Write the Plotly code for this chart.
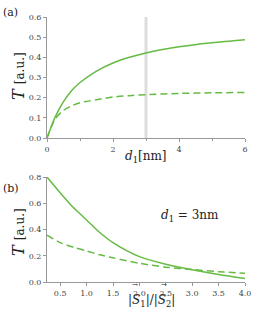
import plotly.graph_objects as go

# Panel (a)
d1 = [0, 0.25, 0.5, 0.75, 1, 1.5, 2, 2.5, 3, 4, 5, 6]
T_a_solid = [0, 0.105, 0.18, 0.235, 0.275, 0.332, 0.372, 0.40, 0.422, 0.452, 0.472, 0.487]
T_a_dash = [0, 0.095, 0.137, 0.16, 0.175, 0.19, 0.203, 0.21, 0.215, 0.221, 0.224, 0.226]
d_marker = 3

# Panel (b)
ratio = [0.25, 0.5, 0.75, 1, 1.25, 1.5, 2, 2.5, 3, 3.5, 4]
T_b_solid = [0.8, 0.68, 0.567, 0.473, 0.377, 0.30, 0.193, 0.135, 0.093, 0.057, 0.027]
T_b_dash = [0.357, 0.30, 0.265, 0.237, 0.207, 0.184, 0.143, 0.113, 0.095, 0.079, 0.067]

GREEN = "#66bb44"
FONT = "DejaVu Serif"

fig = go.Figure()
fig.add_trace(go.Scatter(x=[d_marker, d_marker], y=[0, 0.6], mode="lines",
                         line=dict(color="#dcdcdc", width=3), xaxis="x", yaxis="y", hoverinfo="skip"))
fig.add_trace(go.Scatter(x=d1, y=T_a_solid, mode="lines", line=dict(color=GREEN, width=1.5, shape="spline", smoothing=0.8),
                         xaxis="x", yaxis="y"))
fig.add_trace(go.Scatter(x=d1, y=T_a_dash, mode="lines",
                         line=dict(color=GREEN, width=1.5, shape="spline", smoothing=0.8, dash="7px,4px"),
                         xaxis="x", yaxis="y"))
fig.add_trace(go.Scatter(x=ratio, y=T_b_solid, mode="lines", line=dict(color=GREEN, width=1.5, shape="spline", smoothing=0.8),
                         xaxis="x2", yaxis="y2"))
fig.add_trace(go.Scatter(x=ratio, y=T_b_dash, mode="lines",
                         line=dict(color=GREEN, width=1.5, shape="spline", smoothing=0.8, dash="7px,4px"),
                         xaxis="x2", yaxis="y2"))

W, H = 257, 315
xd = [47 / W, 245 / W]
axcommon = dict(showgrid=False, zeroline=False, showline=True, linecolor="#999999", linewidth=1,
                ticks="outside", ticklen=3, tickcolor="#999999", automargin=False,
                tickfont=dict(family=FONT, size=8, color="#444444"))

fig.update_layout(
    width=W, height=H, margin=dict(l=0, r=0, t=0, b=0, pad=0, autoexpand=False),
    paper_bgcolor="white", plot_bgcolor="white", showlegend=False,
    xaxis=dict(domain=xd, range=[0, 6], tickvals=[0, 2, 4, 6], anchor="y",
               minor=dict(tickvals=[1, 3, 5], ticklen=2, tickcolor="#999999", ticks="outside"), **axcommon),
    yaxis=dict(domain=[1 - 138 / H, 1 - 17 / H], range=[0, 0.6], tickvals=[0, 0.1, 0.2, 0.3, 0.4, 0.5, 0.6],
               tickformat=".1f", anchor="x", **axcommon),
    xaxis2=dict(domain=xd, range=[0.25, 4.0], tickvals=[0.5, 1, 1.5, 2, 2.5, 3, 3.5, 4], tickformat=".1f",
                anchor="y2", **axcommon),
    yaxis2=dict(domain=[1 - 282 / H, 1 - 177 / H], range=[0, 0.8], tickvals=[0, 0.2, 0.4, 0.6, 0.8],
                tickformat=".1f", anchor="x2", **axcommon),
)

ann = [
    dict(text="(a)", x=1, y=13, size=11, angle=0, xanchor="left"),
    dict(text="(b)", x=1, y=188, size=11, angle=0, xanchor="left"),
    dict(text="<i>T</i> <span style='font-size:12px'>[a.u.]</span>", x=18, y=76, size=16, angle=-90, xanchor="center"),
    dict(text="<i>T</i> <span style='font-size:12px'>[a.u.]</span>", x=18, y=232, size=16, angle=-90, xanchor="center"),
    dict(text="<i>d</i><sub>1</sub>[nm]", x=146, y=157, size=12, angle=0, xanchor="center"),
    dict(text="|<i>S</i><sub>1</sub>|/|<i>S</i><sub>2</sub>|", x=151, y=301, size=12, angle=0, xanchor="center"),
    dict(text="\u2192", x=135, y=285, size=7, angle=0, xanchor="center"),
    dict(text="\u2192", x=164, y=285, size=7, angle=0, xanchor="center"),
    dict(text="<i>d</i><sub>1</sub> = 3nm", x=190, y=216, size=12, angle=0, xanchor="center"),
]
for a in ann:
    fig.add_annotation(text=a["text"], x=a["x"] / W, y=1 - a["y"] / H, xref="paper", yref="paper",
                       xanchor=a["xanchor"], yanchor="middle", textangle=a["angle"], showarrow=False,
                       font=dict(family=FONT, size=a["size"], color="#222222"))

fig.write_html("out.html", config={"displayModeBar": False},
               post_script="document.body.style.margin='0';document.body.style.overflow='hidden';")
